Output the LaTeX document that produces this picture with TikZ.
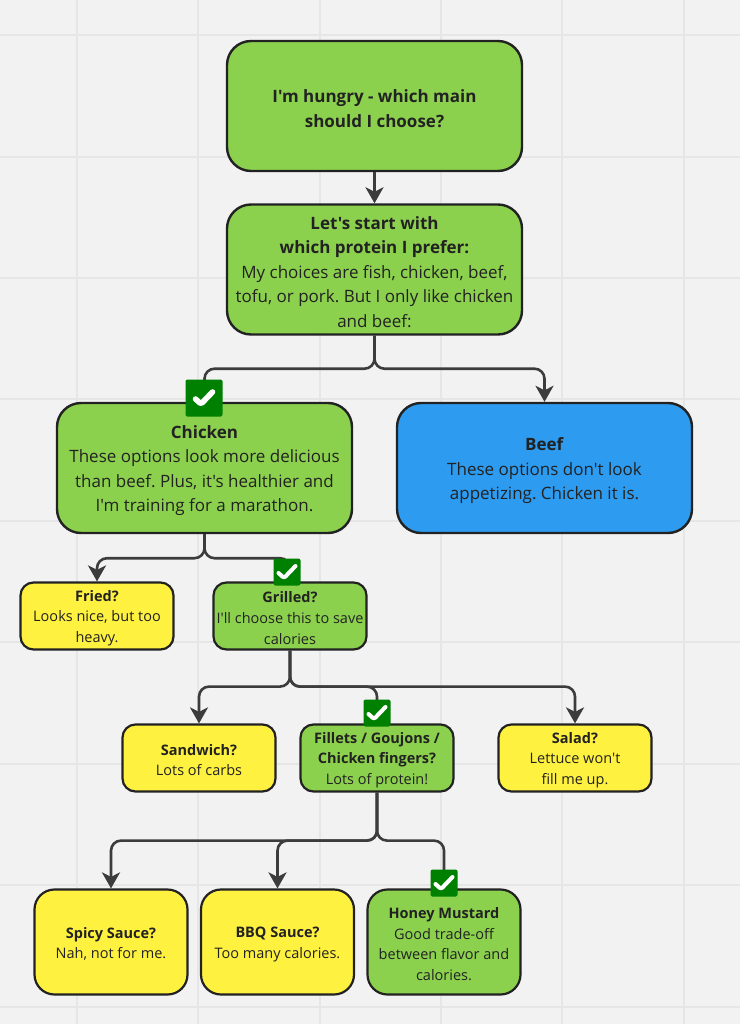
\documentclass[tikz,border=0pt]{standalone}
\usepackage{fontspec}
\setmainfont[Ligatures=TeXOff]{Open Sans}
\usetikzlibrary{arrows.meta}
\AtBeginDocument{\frenchspacing}
\newcommand{\firstrow}{\rule{0pt}{0.74\baselineskip}}
\definecolor{boardbg}{HTML}{F2F2F2}
\definecolor{gridline}{HTML}{E6E6E6}
\definecolor{boxgreen}{HTML}{8CD14E}
\definecolor{boxyellow}{HTML}{FFF140}
\definecolor{boxblue}{HTML}{2D9BF0}
\definecolor{tickgreen}{HTML}{008000}
\definecolor{inkdark}{HTML}{222222}
\definecolor{linkgrey}{HTML}{3C3C3C}
\tikzset{
  bigbox/.style={draw=inkdark,line width=2.4pt,rounded corners=24pt,align=center,text=inkdark,
    minimum width=295pt,minimum height=130pt,inner sep=0pt,
    font=\fontsize{17}{24.5}\selectfont},
  smallbox/.style={draw=inkdark,line width=2.2pt,rounded corners=13pt,align=center,text=inkdark,
    minimum width=153pt,minimum height=67pt,inner sep=0pt,
    font=\fontsize{14.5}{20.6}\selectfont},
  tallbox/.style={smallbox,rounded corners=20pt,minimum height=105pt},
  link/.style={draw=linkgrey,line width=2.6pt,rounded corners=10pt,
    -{Stealth[length=16pt,width=18pt,inset=4.5pt]}},
  badge/.style={fill=tickgreen,rounded corners=2pt,inner sep=0pt,minimum size=#1,
    path picture={\draw[white,line width=0.15*#1,line cap=round,line join=round,
      shift={(path picture bounding box.center)},scale=#1/27]
      (-8.5,1) -- (-3,6) -- (8.5,-6);}},
}
\begin{document}
\begin{tikzpicture}[x=1pt,y=-1pt]
  \useasboundingbox[fill=boardbg] (0,0) rectangle (740,1024);
  % board grid
  \foreach \gx in {77,198,320,441,562,684}
    \draw[gridline,line width=1.6pt] (\gx,0) -- (\gx,1024);
  \foreach \gy in {35,157,278,399,521,642,764,885,1007}
    \draw[gridline,line width=1.6pt] (0,\gy) -- (740,\gy);

  \node[bigbox,fill=boxgreen] (start) at (374.5,106) {\firstrow\textbf{I'm hungry - which main}\\\textbf{should I choose?}};
  \node[bigbox,fill=boxgreen] (protein) at (374.5,269.5) {\firstrow\textbf{Let's start with}\\\textbf{which protein I prefer:}\\My choices are fish, chicken, beef,\\tofu, or pork. But I only like chicken\\and beef:};
  \node[bigbox,fill=boxgreen] (chicken) at (204.5,468) {\firstrow\textbf{Chicken}\\These options look more delicious\\than beef. Plus, it's healthier and\\I'm training for a marathon.};
  \node[bigbox,fill=boxblue] (beef) at (544.5,468) {\firstrow\textbf{Beef}\\These options don't look\\appetizing. Chicken it is.};

  \node[smallbox,fill=boxyellow] (fried) at (97,616) {\firstrow\textbf{Fried?}\\Looks nice, but too\\heavy.};
  \node[smallbox,fill=boxgreen] (grilled) at (290,616) {\firstrow\textbf{Grilled?}\\I'll choose this to save\\calories};

  \node[smallbox,fill=boxyellow] (sandwich) at (199,758) {\firstrow\textbf{Sandwich?}\\Lots of carbs};
  \node[smallbox,fill=boxgreen] (fillets) at (377,758) {\firstrow\textbf{Fillets / Goujons /}\\\textbf{Chicken fingers?}\\Lots of protein!};
  \node[smallbox,fill=boxyellow] (salad) at (575,758) {\firstrow\textbf{Salad?}\\Lettuce won't\\fill me up.};

  \node[tallbox,fill=boxyellow] (spicy) at (111,942) {\firstrow\textbf{Spicy Sauce?}\\Nah, not for me.};
  \node[tallbox,fill=boxyellow] (bbq) at (277.5,942) {\firstrow\textbf{BBQ Sauce?}\\Too many calories.};
  \node[tallbox,fill=boxgreen] (honey) at (444,942) {\firstrow\textbf{Honey Mustard}\\Good trade-off\\between flavor and\\calories.};

  \draw[link] (start) -- (protein);
  \draw[link] (protein.south) -- ++(0,33) -| (chicken.north);
  \draw[link] (protein.south) -- ++(0,33) -| (beef.north);
  \draw[link] (chicken.south) -- ++(0,24) -| (fried.north);
  \draw[link] (chicken.south) -- ++(0,24) -| (grilled.north);
  \draw[link] (grilled.south) -- ++(0,36) -| (sandwich.north);
  \draw[link] (grilled.south) -- ++(0,36) -| (fillets.north);
  \draw[link] (grilled.south) -- ++(0,36) -| (salad.north);
  \draw[link] (fillets.south) -- ++(0,48) -| (spicy.north);
  \draw[link] (fillets.south) -- ++(0,48) -| (bbq.north);
  \draw[link] (fillets.south) -- ++(0,48) -| (honey.north);

  \node[badge=37pt] (tickchicken) at (204,398) {};
  \node[badge=27pt] (tickgrilled) at (287,572) {};
  \node[badge=27pt] (tickfillets) at (377,713) {};
  \node[badge=27pt] (tickhoney) at (444,883) {};
\end{tikzpicture}
\end{document}
